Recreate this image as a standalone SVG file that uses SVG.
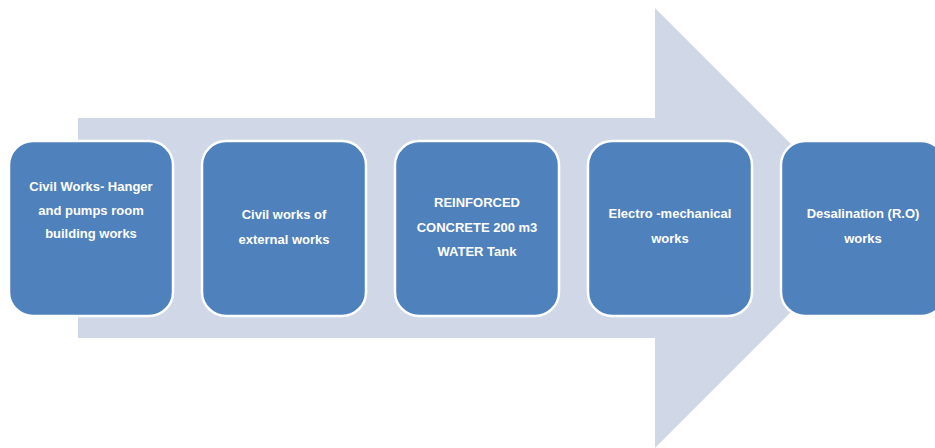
<svg xmlns="http://www.w3.org/2000/svg" width="935" height="448" viewBox="0 0 935 448">
<style>
.box{fill:#4F81BD;stroke:#FFFFFF;stroke-width:2.5}
.t{font-family:"Liberation Sans",Arial,sans-serif;font-weight:bold;font-size:13px;fill:#FFFFFF;text-anchor:middle}
</style>
<rect width="935" height="448" fill="#FFFFFF"/>
<g id="arrow">
<polygon points="78,118 655,118 655,8 875,228 655,448 655,338 78,338" fill="#D0D8E8"/>
</g>
<g id="node1">
<rect class="box" x="9" y="141" width="164" height="175" rx="24"/>
<text class="t" x="91" y="191">Civil Works- Hanger</text>
<text class="t" x="91" y="215">and pumps room</text>
<text class="t" x="91" y="238">building works</text>
</g>
<g id="node2">
<rect class="box" x="202" y="141" width="164" height="175" rx="24"/>
<text class="t" x="284" y="219">Civil works of</text>
<text class="t" x="284" y="244">external works</text>
</g>
<g id="node3">
<rect class="box" x="395" y="141" width="164" height="175" rx="24"/>
<text class="t" x="477" y="207">REINFORCED</text>
<text class="t" x="477" y="232">CONCRETE 200 m3</text>
<text class="t" x="477" y="256">WATER Tank</text>
</g>
<g id="node4">
<rect class="box" x="588" y="141" width="164" height="175" rx="24"/>
<text class="t" x="670" y="218">Electro -mechanical</text>
<text class="t" x="670" y="243">works</text>
</g>
<g id="node5">
<rect class="box" x="781" y="141" width="164" height="175" rx="24"/>
<text class="t" x="863" y="218">Desalination (R.O)</text>
<text class="t" x="863" y="243">works</text>
</g>
<g id="connectors"></g>
</svg>
